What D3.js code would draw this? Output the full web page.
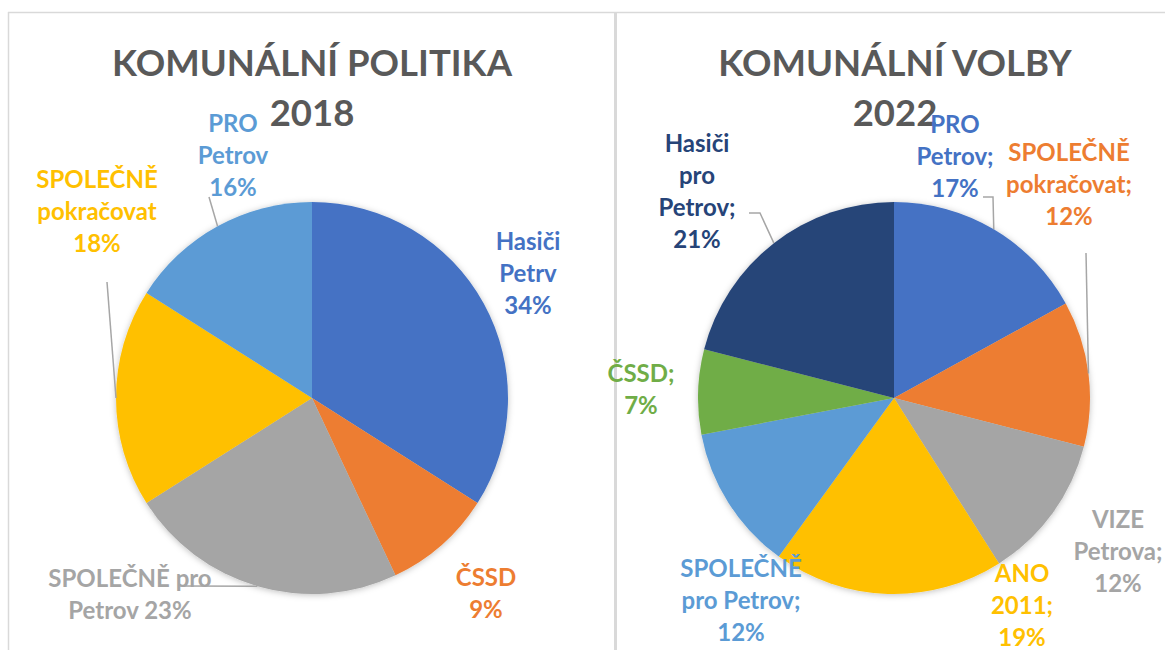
<!DOCTYPE html>
<html><head><meta charset="utf-8">
<script src="https://cdn.jsdelivr.net/npm/d3@7"></script>
<style>html,body{margin:0;padding:0;background:#fff;}svg{display:block;}</style>
</head><body>
<svg id="c" width="1165" height="650"></svg>
<script>
// ---- data ----
const leftTitle = ["KOMUNÁLNÍ POLITIKA", "2018"];
const leftCategories = ["Hasiči Petrv", "ČSSD", "SPOLEČNĚ pro Petrov", "SPOLEČNĚ pokračovat", "PRO Petrov"];
const leftValues = [34, 9, 23, 18, 16];

const rightTitle = ["KOMUNÁLNÍ VOLBY", "2022"];
const rightCategories = ["PRO Petrov", "SPOLEČNĚ pokračovat", "VIZE Petrova", "ANO 2011", "SPOLEČNĚ pro Petrov", "ČSSD", "Hasiči pro Petrov"];
const rightValues = [17, 12, 12, 19, 12, 7, 21];

// ---- styles / layout ----
const leftColors = ["#4472C4", "#ED7D31", "#A5A5A5", "#FFC000", "#5B9BD5"];
const rightColors = ["#4472C4", "#ED7D31", "#A5A5A5", "#FFC000", "#5B9BD5", "#70AD47", "#264478"];
const FONT = "Lato, 'Open Sans', sans-serif";
const LABEL_SIZE = 24, TITLE_SIZE = 36.5, LINE_H = 32;

const leftLayout = {
  cx: 312, cy: 398, r: 196, titleX: 312, sep: " ",
  labels: [
    {breaks: [1,1,1], x: 528, y: 250},
    {breaks: [1,1],   x: 486, y: 586},
    {breaks: [2,2],   x: 130, y: 587, leader: [[180, 586]]},
    {breaks: [1,1,1], x: 97,  y: 188, leader: [[107, 282]]},
    {breaks: [1,1,1], x: 233, y: 132, leader: [[209, 197]]}
  ]
};
const rightLayout = {
  cx: 894, cy: 398, r: 196, titleX: 895, sep: "; ",
  labels: [
    {breaks: [1,1,1], x: 955,  y: 133, leader: [[983, 197], [993, 197]]},
    {breaks: [1,1,1], x: 1069, y: 161, leader: [[1086, 253]]},
    {breaks: [1,1,1], x: 1118, y: 528},
    {breaks: [1,1,1], x: 1022, y: 582},
    {breaks: [1,2,1], x: 741,  y: 577},
    {breaks: [1,1],   x: 641,  y: 382},
    {breaks: [1,1,1,1], x: 697, y: 152, leader: [[749, 213], [760, 213]]}
  ]
};

const svg = d3.select("#c");
const defs = svg.append("defs");
const f = defs.append("filter").attr("id", "sh").attr("x", "-20%").attr("y", "-20%").attr("width", "140%").attr("height", "140%");
f.append("feDropShadow").attr("dx", 0).attr("dy", 1).attr("stdDeviation", 3).attr("flood-color", "#000").attr("flood-opacity", 0.25);

// panel borders
svg.append("line").attr("x1", 8).attr("x2", 1165).attr("y1", 12.5).attr("y2", 12.5).attr("stroke", "#D9D9D9").attr("stroke-width", 1.5);
svg.append("line").attr("x1", 8.5).attr("x2", 8.5).attr("y1", 12).attr("y2", 650).attr("stroke", "#D9D9D9").attr("stroke-width", 1.5);
svg.append("line").attr("x1", 615.5).attr("x2", 615.5).attr("y1", 12).attr("y2", 650).attr("stroke", "#D9D9D9").attr("stroke-width", 3);

function drawPie(title, cats, vals, colors, L) {
  const g = svg.append("g");
  // title
  title.forEach((t, i) => {
    g.append("text").attr("x", L.titleX).attr("y", 76 + i * 50)
      .attr("text-anchor", "middle").attr("font-family", FONT).attr("font-weight", 700)
      .attr("font-size", TITLE_SIZE).attr("fill", "#595959").text(t);
  });
  const pie = d3.pie().sort(null).value(d => d)(vals);
  const arc = d3.arc().innerRadius(0).outerRadius(L.r);
  const edge = d3.arc().innerRadius(L.r).outerRadius(L.r);
  const pg = g.append("g").attr("transform", `translate(${L.cx},${L.cy})`);
  pg.append("g").attr("filter", "url(#sh)").selectAll("path").data(pie).join("path")
    .attr("d", arc).attr("fill", (d, i) => colors[i]);
  // leaders
  pie.forEach((d, i) => {
    const lab = L.labels[i];
    if (!lab.leader) return;
    const c = edge.centroid(d);
    const pts = lab.leader.concat([[L.cx + c[0], L.cy + c[1]]]);
    g.append("path").attr("d", d3.line()(pts)).attr("fill", "none")
      .attr("stroke", "#A6A6A6").attr("stroke-width", 1.5);
  });
  // labels
  pie.forEach((d, i) => {
    const lab = L.labels[i];
    const words = (cats[i] + L.sep + vals[i] + "%").split(" ");
    const lines = [];
    let k = 0;
    lab.breaks.forEach(n => { lines.push(words.slice(k, k + n).join(" ")); k += n; });
    const t = g.append("text").attr("text-anchor", "middle").attr("font-family", FONT)
      .attr("font-weight", 700).attr("font-size", LABEL_SIZE).attr("fill", colors[i]);
    lines.forEach((ln, j) => {
      t.append("tspan").attr("x", lab.x).attr("y", lab.y + j * LINE_H).text(ln);
    });
  });
}

drawPie(leftTitle, leftCategories, leftValues, leftColors, leftLayout);
drawPie(rightTitle, rightCategories, rightValues, rightColors, rightLayout);
</script>
</body></html>
